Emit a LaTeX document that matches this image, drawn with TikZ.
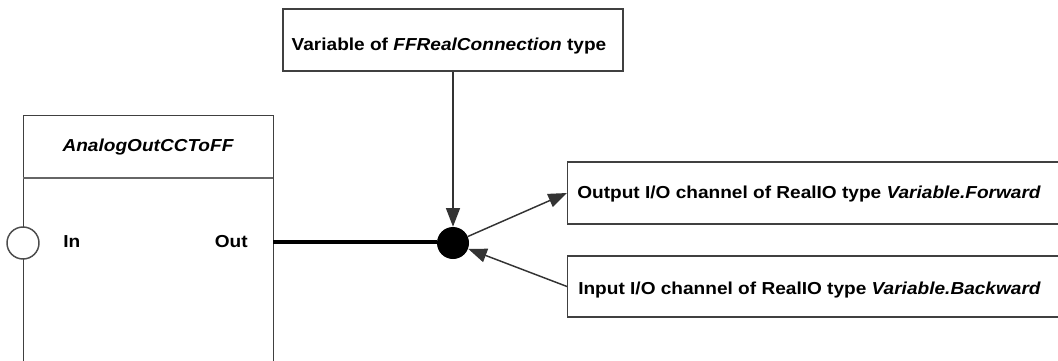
\documentclass[tikz,border=0pt]{standalone}
\usepackage{fontspec}
\setmainfont{Liberation Sans}[FakeStretch=1.1]
\usetikzlibrary{arrows.meta}
\begin{document}
\begin{tikzpicture}[x=0.75pt,y=-0.75pt,
  box/.style={draw=black!75, line width=1.1pt, fill=white, inner sep=0pt},
  lbl/.style={inner sep=0pt, font=\fontsize{13}{15}\selectfont\bfseries},
  conn/.style={draw=black!80, line width=1.1pt},
  arr/.style={conn, -{Triangle[length=14pt,width=10.5pt]}},
]
\useasboundingbox (0,0) rectangle (1058,361);
\clip (0,0) rectangle (1058,361);
% left block
\node[box, minimum width=250*0.75pt, minimum height=265*0.75pt, anchor=north west] (blk) at (23,115) {};
\draw[draw=black!60, line width=1.1pt] (23,178) -- (273,178);
\node[lbl, font=\fontsize{13}{15}\selectfont\bfseries\itshape] (title) at (148,147) {AnalogOutCCToFF};
\node[box, circle, minimum size=32*0.75pt, draw=black!70] (inport) at (23,243) {};
\node[lbl, anchor=west] (inl) at (63,242) {In};
\node[lbl, anchor=east] (outl) at (248,242) {Out};
\coordinate (outport) at (273,242);
% junction
\node[circle, fill=black, inner sep=0pt, minimum size=32*0.75pt] (dot) at (453,243) {};
% top box
\node[box, minimum width=340*0.75pt, minimum height=62*0.75pt] (var) at (453,40) {};
\node[lbl] (vartxt) at (449,46) {Variable of \textit{FFRealConnection} type};
% right boxes
\node[box, minimum width=510*0.75pt, minimum height=62*0.75pt, anchor=west] (fwd) at (567,193) {};
\node[lbl, anchor=west] (fwdtxt) at (577,194) {Output I/O channel of RealIO type \textit{Variable.Forward}};
\node[box, minimum width=510*0.75pt, minimum height=61*0.75pt, anchor=west] (bwd) at (567,286.5) {};
\node[lbl, anchor=west] (bwdtxt) at (578,290) {Input I/O channel of RealIO type \textit{Variable.Backward}};
% connectors
\draw[draw=black, line width=3pt] (outport) -- (outport -| dot.west);
\draw[arr] (var.south) -- (dot.north);
\draw[arr] (dot) -- (fwd.west);
\draw[arr] (bwd.west) -- (dot);
\end{tikzpicture}
\end{document}
